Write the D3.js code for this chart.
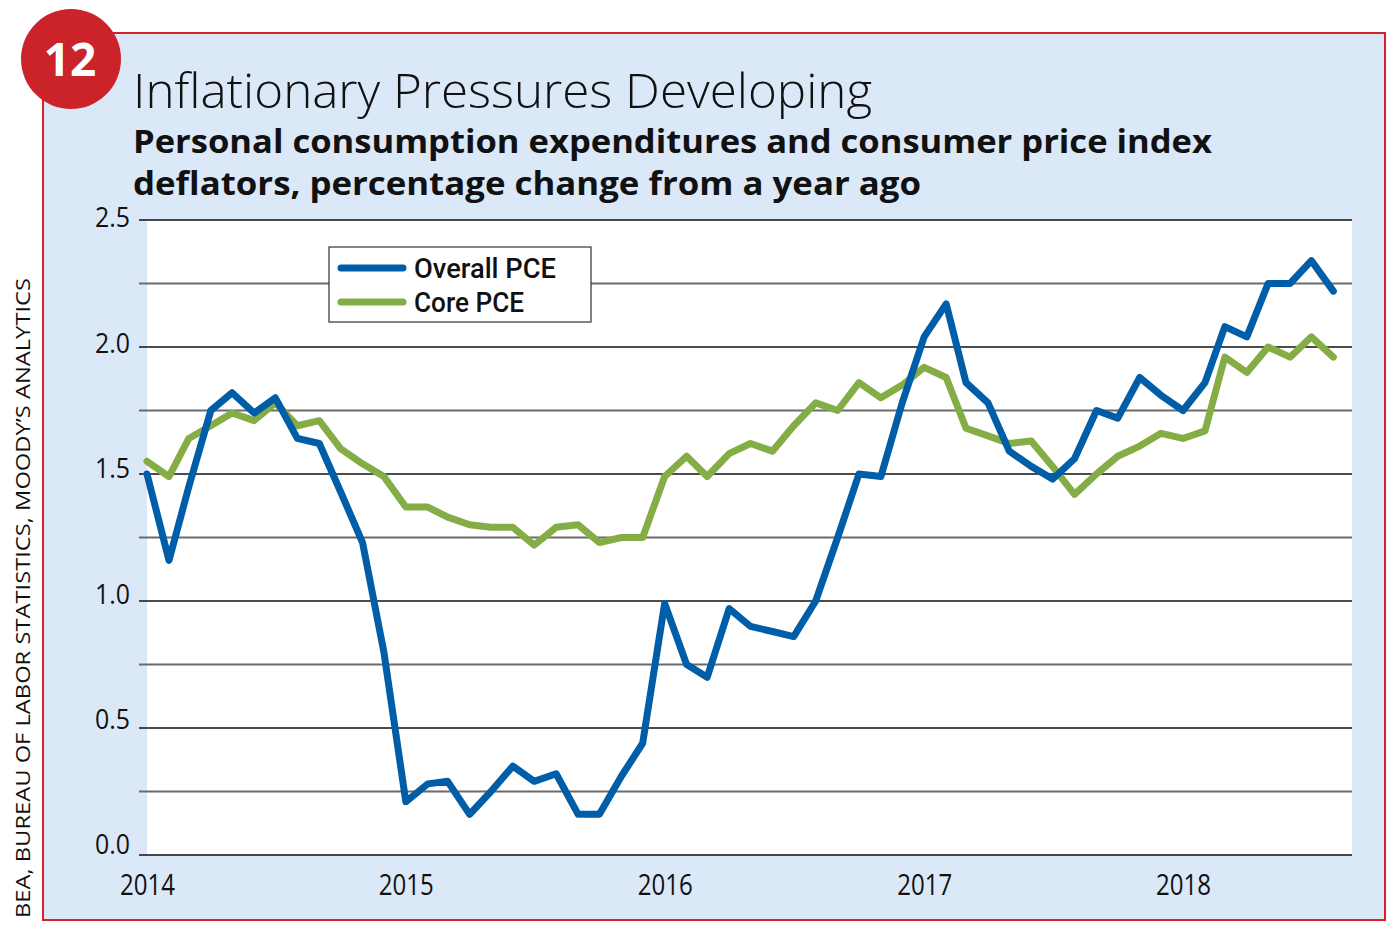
<!DOCTYPE html>
<meta charset="utf-8">
<style>
    body {margin: 0; background: #fff; font-family: 'Open Sans', sans-serif;}
</style>
<svg width="1397" height="932"></svg>
<script src="https://d3js.org/d3.v7.min.js"></script>
<script>

// monthly, Jan 2014 - Aug 2018
var startMonth = new Date(2014, 0, 1);

var overallPCE = [
  1.50, 1.16, 1.45, 1.75, 1.82, 1.74, 1.80, 1.64, 1.62, 1.43, 1.23, 0.80,
  0.21, 0.28, 0.29, 0.16, 0.25, 0.35, 0.29, 0.32, 0.16, 0.16, 0.31, 0.44,
  0.99, 0.75, 0.70, 0.97, 0.90, 0.88, 0.86, 1.00, 1.25, 1.50, 1.49, 1.78,
  2.04, 2.17, 1.86, 1.78, 1.59, 1.53, 1.48, 1.56, 1.75, 1.72, 1.88, 1.81,
  1.75, 1.86, 2.08, 2.04, 2.25, 2.25, 2.34, 2.22
];

var corePCE = [
  1.55, 1.49, 1.64, 1.69, 1.74, 1.71, 1.78, 1.69, 1.71, 1.60, 1.54, 1.49,
  1.37, 1.37, 1.33, 1.30, 1.29, 1.29, 1.22, 1.29, 1.30, 1.23, 1.25, 1.25,
  1.49, 1.57, 1.49, 1.58, 1.62, 1.59, 1.69, 1.78, 1.75, 1.86, 1.80, 1.85,
  1.92, 1.88, 1.68, 1.65, 1.62, 1.63, 1.53, 1.42, 1.50, 1.57, 1.61, 1.66,
  1.64, 1.67, 1.96, 1.90, 2.00, 1.96, 2.04, 1.96
];

var seriesNames = ["Overall PCE", "Core PCE"];
var seriesColors = ["#005da8", "#85ad46"];
var yTicks = [0, 0.25, 0.5, 0.75, 1.0, 1.25, 1.5, 1.75, 2.0, 2.25, 2.5];
var yLabels = [0, 0.5, 1.0, 1.5, 2.0, 2.5];
var yearTicks = [2014, 2015, 2016, 2017, 2018];

var svg = d3.select("svg");

// panel
svg.append("rect")
    .attr("x", 43).attr("y", 33)
    .attr("width", 1342).attr("height", 887)
    .style("fill", "#dbe8f7")
    .style("stroke", "#d2232a")
    .style("stroke-width", 2);

var x = d3.scaleTime()
    .domain([new Date(2014, 0, 1), new Date(2018, 0, 1)])
    .range([147, 1183]);

var y = d3.scaleLinear()
    .domain([0, 2.5])
    .range([855, 220]);

// the labels sit a little above their lines, more so toward the bottom
var yLab = d3.scaleLinear()
    .domain([0, 2.5])
    .range([845, 218]);

svg.append("rect")
    .attr("x", 147).attr("y", y(2.5))
    .attr("width", 1352 - 147).attr("height", y(0) - y(2.5))
    .style("fill", "#fff");

// gridlines
svg.append("g")
  .selectAll("line")
  .data(yTicks)
  .enter().append("line")
    .attr("x1", 139).attr("x2", 1352)
    .attr("y1", function(d) { return y(d); })
    .attr("y2", function(d) { return y(d); })
    .style("stroke", function(d) { return (d * 2) % 1 === 0 ? "#111" : "#6b6b6b"; })
    .style("stroke-width", function(d) { return (d * 2) % 1 === 0 ? 1.6 : 2; });

var yAxis = svg.append("g")
    .attr("transform", "translate(130,0)")
    .call(d3.axisLeft(yLab).tickValues(yLabels)
        .tickFormat(d3.format(".1f")).tickSize(0).tickPadding(0));
yAxis.select(".domain").remove();
yAxis.selectAll("text")
    .attr("textLength", 35)
    .attr("lengthAdjust", "spacingAndGlyphs")
    .style("font-family", "'Open Sans', sans-serif")
    .style("font-size", "28px")
    .style("font-weight", 400)
    .style("fill", "#111");

var xAxis = svg.append("g")
    .attr("transform", "translate(0,873)")
    .call(d3.axisBottom(x).tickValues(yearTicks.map(function(d) { return new Date(d, 0, 1); }))
        .tickFormat(d3.timeFormat("%Y")).tickSize(0).tickPadding(0));
xAxis.select(".domain").remove();
xAxis.selectAll("text")
    .attr("dy", "0.73em")
    .attr("textLength", 55)
    .attr("lengthAdjust", "spacingAndGlyphs")
    .style("font-family", "'Open Sans', sans-serif")
    .style("font-size", "30px")
    .style("font-weight", 400)
    .style("fill", "#111");

var line = d3.line()
    .x(function(d, i) { return x(d3.timeMonth.offset(startMonth, i)); })
    .y(function(d) { return y(d); });

[corePCE, overallPCE].forEach(function(s, k) {
  svg.append("path")
      .datum(s)
      .attr("d", line)
      .style("fill", "none")
      .style("stroke", k === 0 ? seriesColors[1] : seriesColors[0])
      .style("stroke-width", 7)
      .style("stroke-linejoin", "round")
      .style("stroke-linecap", "round");
});

// legend
var legend = svg.append("g").attr("transform", "translate(329,247)");
legend.append("rect")
    .attr("width", 262).attr("height", 75)
    .style("fill", "#fff")
    .style("stroke", "#333")
    .style("stroke-width", 1.2);
seriesNames.forEach(function(name, i) {
  legend.append("line")
      .attr("x1", 12).attr("x2", 74)
      .attr("y1", 21 + i * 34).attr("y2", 21 + i * 34)
      .style("stroke", seriesColors[i])
      .style("stroke-width", 7)
      .style("stroke-linecap", "round");
  legend.append("text")
      .attr("x", 85).attr("y", 21 + i * 34)
      .attr("dy", "0.36em")
      .attr("textLength", i === 0 ? 142 : 110)
      .attr("lengthAdjust", "spacingAndGlyphs")
      .style("font-family", "Roboto, sans-serif")
      .style("font-size", "27px")
      .style("font-weight", 500)
      .style("fill", "#111")
      .text(name);
});

// titles
svg.append("text")
    .attr("x", 133).attr("y", 108)
    .attr("textLength", 739)
    .attr("lengthAdjust", "spacingAndGlyphs")
    .style("font-family", "'Open Sans', sans-serif")
    .style("font-size", "48px")
    .style("font-weight", 300)
    .style("fill", "#111")
    .text("Inflationary Pressures Developing");

svg.append("text")
    .attr("x", 133).attr("y", 153)
    .attr("textLength", 1079)
    .attr("lengthAdjust", "spacingAndGlyphs")
    .style("font-family", "'Open Sans', sans-serif")
    .style("font-size", "33px")
    .style("font-weight", 700)
    .style("fill", "#111")
    .text("Personal consumption expenditures and consumer price index");

svg.append("text")
    .attr("x", 133).attr("y", 195)
    .attr("textLength", 788)
    .attr("lengthAdjust", "spacingAndGlyphs")
    .style("font-family", "'Open Sans', sans-serif")
    .style("font-size", "33px")
    .style("font-weight", 700)
    .style("fill", "#111")
    .text("deflators, percentage change from a year ago");

// number badge
svg.append("circle")
    .attr("cx", 71).attr("cy", 59).attr("r", 50)
    .style("fill", "#cc2229");
svg.append("text")
    .attr("x", 70).attr("y", 59)
    .attr("dy", "0.36em")
    .attr("text-anchor", "middle")
    .style("font-family", "'Open Sans', sans-serif")
    .style("font-size", "46px")
    .style("font-weight", 700)
    .style("fill", "#fff")
    .text("12");

// source
svg.append("text")
    .attr("transform", "translate(30,918) rotate(-90)")
    .attr("textLength", 640)
    .attr("lengthAdjust", "spacingAndGlyphs")
    .style("font-family", "'Open Sans', sans-serif")
    .style("font-size", "20px")
    .style("font-weight", 400)
    .style("fill", "#111")
    .text("BEA, BUREAU OF LABOR STATISTICS, MOODY\u2019S ANALYTICS");

</script>
